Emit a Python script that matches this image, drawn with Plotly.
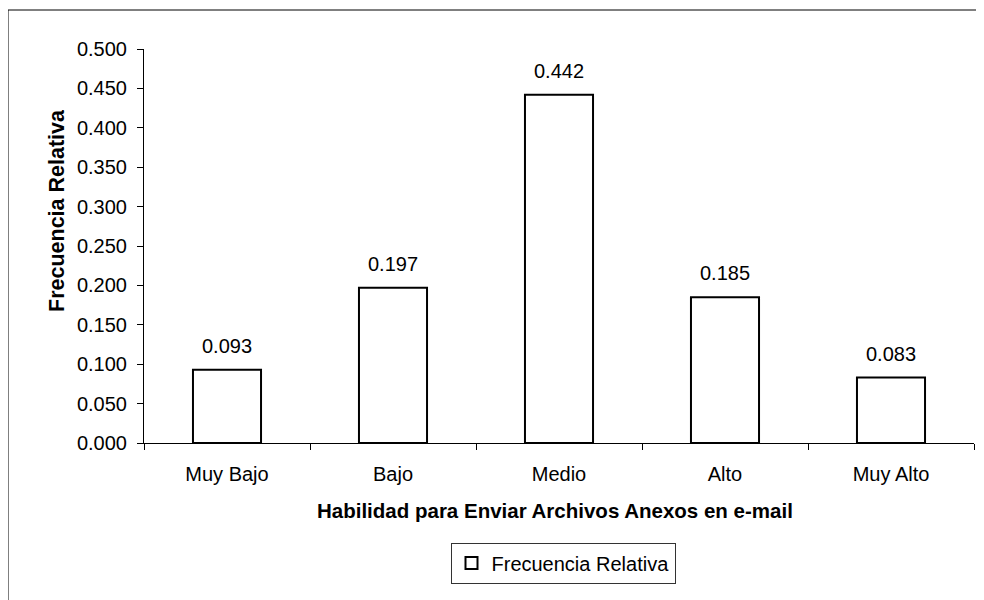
import plotly.graph_objects as go

categories = ["Muy Bajo", "Bajo", "Medio", "Alto", "Muy Alto"]
values = [0.093, 0.197, 0.442, 0.185, 0.083]
series_name = "Frecuencia Relativa"
x_title = "Habilidad para Enviar Archivos Anexos en e-mail"
y_title = "Frecuencia Relativa"

# page is offset by the default 8px body margin
OFF = 8
W, H = 984, 600
# target page coordinates of plot area
PL, PR, PT, PB = 144, 974, 49, 443
L = PL - OFF
T = PT - OFF
R = W - (PR - OFF)
B = H - (PB - OFF)
pw, ph = PR - PL, PB - PT

def px_x(x):
    return (x - PL) / pw

def px_y(y):
    return (PB - y) / ph

FONT = "Liberation Sans, Arial, sans-serif"

fig = go.Figure()
fig.add_trace(go.Bar(
    x=categories, y=values, name=series_name,
    marker=dict(color="white", line=dict(color="black", width=2)),
    width=0.41, showlegend=True,
))

annotations = []
for c, v in zip(categories, values):
    annotations.append(dict(
        x=c, y=v, xref="x", yref="y", text=f"{v:.3f}", showarrow=False,
        yanchor="bottom", yshift=11, font=dict(size=20, color="black", family=FONT),
    ))
annotations.append(dict(
    x=px_x(555), y=px_y(510), xref="paper", yref="paper", text=f"<b>{x_title}</b>",
    showarrow=False, xanchor="center", yanchor="middle",
    font=dict(size=20.5, color="black", family=FONT),
))
annotations.append(dict(
    x=px_x(57), y=px_y(211), xref="paper", yref="paper", text=f"<b>{y_title}</b>",
    showarrow=False, xanchor="center", yanchor="middle", textangle=-90,
    font=dict(size=21.5, color="black", family=FONT),
))

fig.update_layout(
    width=W, height=H,
    margin=dict(l=L, r=R, t=T, b=B),
    paper_bgcolor="white", plot_bgcolor="white",
    font=dict(family=FONT, size=20, color="black"),
    annotations=annotations,
    showlegend=True,
    legend=dict(
        orientation="h", x=px_x(563), y=px_y(563), xanchor="center", yanchor="middle",
        bordercolor="#333333", borderwidth=1, bgcolor="white",
        font=dict(size=20, family=FONT, color="black"),
        itemwidth=30,
    ),
    shapes=[dict(
        type="rect", xref="paper", yref="paper",
        x0=px_x(8), x1=px_x(1000), y0=px_y(620), y1=px_y(10),
        line=dict(color="black", width=1), fillcolor="rgba(0,0,0,0)", layer="below",
    )],
)
fig.update_xaxes(
    type="category", showline=True, linecolor="black", linewidth=1,
    ticks="outside", tickson="boundaries", ticklen=6, tickcolor="black",
    showgrid=False, zeroline=False, ticklabelstandoff=13,
    tickfont=dict(size=20, family=FONT, color="black"),
)
fig.update_yaxes(
    range=[0, 0.5], dtick=0.05, tick0=0, tickformat=".3f",
    showline=True, linecolor="black", linewidth=1,
    ticks="outside", ticklen=6, tickcolor="black",
    showgrid=False, zeroline=False, ticklabelstandoff=6,
    tickfont=dict(size=20, family=FONT, color="black"),
)

fig.write_html("out.html")
